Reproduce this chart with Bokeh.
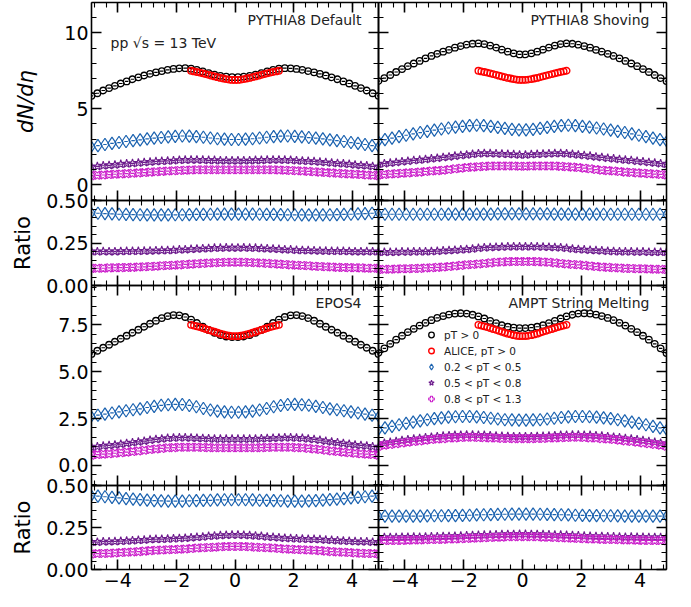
import numpy as np
from bokeh.plotting import figure
from bokeh.models import (Range1d, LinearAxis, SingleIntervalTicker, Label, Legend, LegendItem,
                          ColumnDataSource, NumeralTickFormatter, CustomJSTickFormatter,
                          BasicTickFormatter)
from bokeh.layouts import row, column
from bokeh.embed import file_html
from bokeh.resources import INLINE

# ---------------- data ----------------
eta = [-4.9, -4.7, -4.5, -4.3, -4.1, -3.9, -3.7, -3.5, -3.3, -3.1, -2.9, -2.7, -2.5,
       -2.3, -2.1, -1.9, -1.7, -1.5, -1.3, -1.1, -0.9, -0.7, -0.5, -0.3, -0.1,
       0.1, 0.3, 0.5, 0.7, 0.9, 1.1, 1.3, 1.5, 1.7, 1.9, 2.1, 2.3, 2.5, 2.7, 2.9,
       3.1, 3.3, 3.5, 3.7, 3.9, 4.1, 4.3, 4.5, 4.7, 4.9]

# 0.2 < pT < 0.5 bins
eta_b1 = [-4.92, -4.68, -4.44, -4.20, -3.96, -3.72, -3.48, -3.24, -3.00, -2.76, -2.52,
          -2.28, -2.04, -1.80, -1.56, -1.32, -1.08, -0.84, -0.60, -0.36, -0.12,
          0.12, 0.36, 0.60, 0.84, 1.08, 1.32, 1.56, 1.80, 2.04, 2.28, 2.52,
          2.76, 3.00, 3.24, 3.48, 3.72, 3.96, 4.20, 4.44, 4.68, 4.92]

alice_eta = [-1.5, -1.4, -1.3, -1.2, -1.1, -1.0, -0.9, -0.8, -0.7, -0.6, -0.5, -0.4, -0.3,
             -0.2, -0.1, 0.0, 0.1, 0.2, 0.3, 0.4, 0.5, 0.6, 0.7, 0.8, 0.9, 1.0, 1.1, 1.2,
             1.3, 1.4, 1.5]
alice_dndeta = [7.50, 7.46, 7.42, 7.38, 7.33, 7.28, 7.23, 7.18, 7.13, 7.08, 7.03, 6.99, 6.95,
                6.92, 6.90, 6.90, 6.90, 6.92, 6.95, 6.99, 7.03, 7.08, 7.13, 7.18, 7.23, 7.28,
                7.33, 7.38, 7.42, 7.46, 7.50]

# PYTHIA8 Default
default_all = [5.85, 6.02, 6.20, 6.36, 6.51, 6.66, 6.80, 6.94, 7.07, 7.19, 7.30, 7.40, 7.48, 7.56, 7.62, 7.66, 7.67, 7.64, 7.56, 7.46, 7.35, 7.25, 7.17, 7.11, 7.08,
               7.08, 7.11, 7.17, 7.25, 7.35, 7.46, 7.56, 7.64, 7.67, 7.66, 7.62, 7.56, 7.48, 7.40, 7.30, 7.19, 7.07, 6.94, 6.80, 6.66, 6.51, 6.36, 6.20, 6.02, 5.85]
default_b1 = [2.49, 2.57, 2.64, 2.71, 2.77, 2.84, 2.90, 2.95, 3.01, 3.06, 3.10, 3.14, 3.18, 3.20, 3.19, 3.16, 3.12, 3.07, 3.02, 3.00, 2.97,
              2.97, 3.00, 3.02, 3.07, 3.12, 3.16, 3.19, 3.20, 3.18, 3.14, 3.10, 3.06, 3.01, 2.95, 2.90, 2.84, 2.77, 2.71, 2.64, 2.57, 2.49]
default_r1 = [0.428, 0.425, 0.423, 0.421, 0.419, 0.418, 0.417, 0.416, 0.415, 0.415, 0.415, 0.415, 0.416, 0.416, 0.417, 0.418, 0.418, 0.419, 0.420, 0.420, 0.420,
              0.420, 0.420, 0.420, 0.419, 0.418, 0.418, 0.417, 0.416, 0.416, 0.415, 0.415, 0.415, 0.415, 0.416, 0.417, 0.418, 0.419, 0.421, 0.423, 0.425, 0.428]
default_b2 = [1.17, 1.20, 1.24, 1.27, 1.30, 1.34, 1.37, 1.40, 1.43, 1.46, 1.49, 1.52, 1.54, 1.56, 1.58, 1.61, 1.62, 1.63, 1.63, 1.62, 1.60, 1.60, 1.58, 1.58, 1.57,
              1.57, 1.58, 1.58, 1.60, 1.60, 1.62, 1.63, 1.63, 1.62, 1.61, 1.58, 1.56, 1.54, 1.52, 1.49, 1.46, 1.43, 1.40, 1.37, 1.34, 1.30, 1.27, 1.24, 1.20, 1.17]
default_b3 = [0.59, 0.61, 0.63, 0.66, 0.68, 0.70, 0.72, 0.74, 0.77, 0.79, 0.82, 0.84, 0.87, 0.89, 0.91, 0.93, 0.95, 0.96, 0.97, 0.97, 0.97, 0.97, 0.97, 0.97, 0.97,
              0.97, 0.97, 0.97, 0.97, 0.97, 0.97, 0.97, 0.96, 0.95, 0.93, 0.91, 0.89, 0.87, 0.84, 0.82, 0.79, 0.77, 0.74, 0.72, 0.70, 0.68, 0.66, 0.63, 0.61, 0.59]

# PYTHIA8 Shoving
shoving_all = [6.82, 7.02, 7.22, 7.42, 7.61, 7.80, 7.98, 8.15, 8.32, 8.48, 8.62, 8.76, 8.88, 9.02, 9.13, 9.22, 9.28, 9.30, 9.26, 9.16, 9.03, 8.89, 8.76, 8.65, 8.58,
               8.58, 8.65, 8.76, 8.89, 9.03, 9.16, 9.26, 9.30, 9.28, 9.22, 9.13, 9.02, 8.88, 8.76, 8.62, 8.48, 8.32, 8.15, 7.98, 7.80, 7.61, 7.42, 7.22, 7.02, 6.82]
shoving_b1 = [2.85, 2.96, 3.06, 3.16, 3.25, 3.34, 3.43, 3.51, 3.59, 3.66, 3.73, 3.79, 3.84, 3.89, 3.91, 3.89, 3.84, 3.77, 3.70, 3.64, 3.60,
              3.60, 3.64, 3.70, 3.77, 3.84, 3.89, 3.91, 3.89, 3.84, 3.79, 3.73, 3.66, 3.59, 3.51, 3.43, 3.34, 3.25, 3.16, 3.06, 2.96, 2.85]
shoving_r1 = [0.418, 0.419, 0.419, 0.419, 0.419, 0.419, 0.419, 0.419, 0.419, 0.419, 0.420, 0.420, 0.420, 0.420, 0.420, 0.420, 0.420, 0.421, 0.421, 0.421, 0.421,
              0.421, 0.421, 0.421, 0.421, 0.420, 0.420, 0.420, 0.420, 0.420, 0.420, 0.420, 0.419, 0.419, 0.419, 0.419, 0.419, 0.419, 0.419, 0.419, 0.419, 0.418]
shoving_b2 = [1.34, 1.38, 1.42, 1.46, 1.51, 1.54, 1.59, 1.62, 1.66, 1.70, 1.74, 1.79, 1.83, 1.88, 1.92, 1.96, 2.00, 2.04, 2.06, 2.05, 2.04, 2.02, 2.00, 1.98, 1.96,
              1.96, 1.98, 2.00, 2.02, 2.04, 2.05, 2.06, 2.04, 2.00, 1.96, 1.92, 1.88, 1.83, 1.79, 1.74, 1.70, 1.66, 1.62, 1.59, 1.54, 1.51, 1.46, 1.42, 1.38, 1.34]
shoving_b3 = [0.64, 0.67, 0.69, 0.72, 0.75, 0.77, 0.80, 0.82, 0.86, 0.89, 0.92, 0.95, 0.99, 1.04, 1.08, 1.12, 1.15, 1.18, 1.20, 1.22, 1.23, 1.23, 1.23, 1.22, 1.21,
              1.21, 1.22, 1.23, 1.23, 1.23, 1.22, 1.20, 1.18, 1.15, 1.12, 1.08, 1.04, 0.99, 0.95, 0.92, 0.89, 0.86, 0.82, 0.80, 0.77, 0.75, 0.72, 0.69, 0.67, 0.64]

# EPOS4
epos_all = [5.95, 6.12, 6.28, 6.44, 6.60, 6.76, 6.92, 7.08, 7.24, 7.40, 7.56, 7.72, 7.86, 7.97, 8.02, 8.01, 7.92, 7.78, 7.60, 7.41, 7.23, 7.08, 6.96, 6.88, 6.85,
            6.85, 6.88, 6.96, 7.08, 7.23, 7.41, 7.60, 7.78, 7.92, 8.01, 8.02, 7.97, 7.86, 7.72, 7.56, 7.40, 7.24, 7.08, 6.92, 6.76, 6.60, 6.44, 6.28, 6.12, 5.95]
epos_b1 = [2.61, 2.68, 2.74, 2.80, 2.86, 2.92, 2.97, 3.02, 3.09, 3.15, 3.21, 3.24, 3.26, 3.25, 3.20, 3.13, 3.04, 2.96, 2.90, 2.86, 2.84,
           2.84, 2.86, 2.90, 2.96, 3.04, 3.13, 3.20, 3.25, 3.26, 3.24, 3.21, 3.15, 3.09, 3.02, 2.97, 2.92, 2.86, 2.80, 2.74, 2.68, 2.61]
epos_r1 = [0.440, 0.437, 0.433, 0.429, 0.426, 0.422, 0.419, 0.416, 0.413, 0.410, 0.408, 0.407, 0.407, 0.407, 0.409, 0.410, 0.411, 0.412, 0.414, 0.415, 0.415,
           0.415, 0.415, 0.414, 0.412, 0.411, 0.410, 0.409, 0.407, 0.407, 0.407, 0.408, 0.410, 0.413, 0.416, 0.419, 0.422, 0.426, 0.429, 0.433, 0.437, 0.440]
epos_b2 = [0.97, 1.00, 1.04, 1.07, 1.10, 1.14, 1.18, 1.22, 1.26, 1.30, 1.35, 1.39, 1.42, 1.45, 1.47, 1.48, 1.48, 1.47, 1.46, 1.44, 1.43, 1.42, 1.41, 1.41, 1.41,
           1.41, 1.41, 1.41, 1.42, 1.43, 1.44, 1.46, 1.47, 1.48, 1.48, 1.47, 1.45, 1.42, 1.39, 1.35, 1.30, 1.26, 1.22, 1.18, 1.14, 1.10, 1.07, 1.04, 1.00, 0.97]
epos_b3 = [0.55, 0.58, 0.60, 0.62, 0.65, 0.68, 0.71, 0.74, 0.77, 0.81, 0.85, 0.88, 0.91, 0.94, 0.95, 0.97, 0.97, 0.97, 0.97, 0.96, 0.95, 0.94, 0.94, 0.94, 0.94,
           0.94, 0.94, 0.94, 0.94, 0.95, 0.96, 0.97, 0.97, 0.97, 0.97, 0.95, 0.94, 0.91, 0.88, 0.85, 0.81, 0.77, 0.74, 0.71, 0.68, 0.65, 0.62, 0.60, 0.58, 0.55]

# AMPT String Melting
ampt_all = [6.00, 6.25, 6.49, 6.71, 6.92, 7.11, 7.29, 7.46, 7.61, 7.75, 7.87, 7.97, 8.05, 8.10, 8.12, 8.10, 8.04, 7.95, 7.84, 7.71, 7.59, 7.48, 7.40, 7.35, 7.33,
            7.33, 7.35, 7.40, 7.48, 7.59, 7.71, 7.84, 7.95, 8.04, 8.10, 8.12, 8.10, 8.05, 7.97, 7.87, 7.75, 7.61, 7.46, 7.29, 7.11, 6.92, 6.71, 6.49, 6.25, 6.00]
ampt_b1 = [1.90, 2.00, 2.08, 2.17, 2.24, 2.31, 2.38, 2.44, 2.50, 2.54, 2.58, 2.60, 2.61, 2.61, 2.59, 2.56, 2.52, 2.48, 2.44, 2.43, 2.42,
           2.42, 2.43, 2.44, 2.48, 2.52, 2.56, 2.59, 2.61, 2.61, 2.60, 2.58, 2.54, 2.50, 2.44, 2.38, 2.31, 2.24, 2.17, 2.08, 2.00, 1.90]
ampt_r1 = [0.318, 0.318, 0.318, 0.318, 0.318, 0.318, 0.318, 0.319, 0.320, 0.320, 0.321, 0.321, 0.322, 0.323, 0.325, 0.326, 0.327, 0.328, 0.329, 0.330, 0.330,
           0.330, 0.330, 0.329, 0.328, 0.327, 0.326, 0.325, 0.323, 0.322, 0.321, 0.321, 0.320, 0.320, 0.319, 0.318, 0.318, 0.318, 0.318, 0.318, 0.318, 0.318]
ampt_b2 = [1.14, 1.19, 1.24, 1.28, 1.33, 1.37, 1.41, 1.44, 1.48, 1.51, 1.54, 1.57, 1.59, 1.61, 1.62, 1.63, 1.63, 1.62, 1.61, 1.59, 1.57, 1.56, 1.55, 1.54, 1.54,
           1.54, 1.54, 1.55, 1.56, 1.57, 1.59, 1.61, 1.62, 1.63, 1.63, 1.62, 1.61, 1.59, 1.57, 1.54, 1.51, 1.48, 1.44, 1.41, 1.37, 1.33, 1.28, 1.24, 1.19, 1.14]
ampt_b3 = [1.03, 1.08, 1.12, 1.16, 1.20, 1.24, 1.28, 1.31, 1.35, 1.38, 1.41, 1.43, 1.46, 1.47, 1.49, 1.50, 1.50, 1.49, 1.48, 1.47, 1.46, 1.44, 1.44, 1.43, 1.43,
           1.43, 1.43, 1.44, 1.44, 1.46, 1.47, 1.48, 1.49, 1.50, 1.50, 1.49, 1.47, 1.46, 1.43, 1.41, 1.38, 1.35, 1.31, 1.28, 1.24, 1.20, 1.16, 1.12, 1.08, 1.03]

panel_titles = ["PYTHIA8 Default", "PYTHIA8 Shoving", "EPOS4", "AMPT String Melting"]
legend_labels = ["pT > 0", "ALICE, pT > 0", "0.2 < pT < 0.5", "0.5 < pT < 0.8", "0.8 < pT < 1.3"]
energy_text = "pp \u221as = 13 TeV"

# ---------------- style ----------------
FONT = "DejaVu Sans"
C_BLACK, C_RED = "#000000", "#ff0000"
C_BLUE, C_PURPLE, C_MAG = "#1c63b0", "#6c1a8c", "#cc22cc"
FWS = [287, 288]
X_FMT_CODE = "return tick < 0 ? '\u2212' + Math.abs(tick) : '' + tick;"


def make_sources(allp, b1, r1, b2, b3):
    a = np.array(allp)
    main = ColumnDataSource(dict(eta=eta, all=allp, b2=b2, b3=b3,
                                 r2=list(np.array(b2) / a), r3=list(np.array(b3) / a)))
    blue = ColumnDataSource(dict(eta=eta_b1, b1=b1, r1=r1))
    return main, blue


def style_axis(ax, show, interval, fmt=None, label=None, italic=False, label_standoff=8):
    ax.ticker = SingleIntervalTicker(interval=interval, num_minor_ticks=5)
    ax.major_tick_in, ax.major_tick_out = 10, 0
    ax.minor_tick_in, ax.minor_tick_out = 5, 0
    ax.axis_line_width = 1.6
    ax.major_tick_line_width = 1.6
    ax.minor_tick_line_width = 1.1
    ax.axis_line_color = "black"
    ax.major_tick_line_color = "black"
    ax.minor_tick_line_color = "black"
    if show:
        ax.major_label_text_font = FONT
        ax.major_label_text_font_size = "19px"
        ax.major_label_text_color = "black"
        ax.major_label_standoff = 3
        if fmt is not None:
            ax.formatter = fmt
    else:
        # ticks only: tick labels are not painted on the inner spines
        ax.major_label_text_font_size = "1px"
        ax.major_label_text_color = None
        ax.major_label_standoff = 0
    if label:
        ax.axis_label = label
        ax.axis_label_text_font = FONT
        ax.axis_label_text_font_size = "21px"
        ax.axis_label_text_color = "black"
        ax.axis_label_text_font_style = "italic" if italic else "normal"
        ax.axis_label_standoff = label_standoff


def make_fig(fw, fh, yr, yint, yfmt, left_col, xlabels, borders, ylabel=None, italic=False,
             lab_standoff=8):
    top, bottom, left, right = borders
    p = figure(frame_width=fw, frame_height=fh, x_range=Range1d(-4.9, 4.9), y_range=Range1d(*yr),
               x_axis_location=None, y_axis_location=None, output_backend="svg",
               toolbar_location=None, min_border_top=top, min_border_bottom=bottom,
               min_border_left=left, min_border_right=right)
    p.background_fill_color = None
    p.border_fill_color = None
    p.outline_line_color = None
    p.grid.visible = False
    axl = LinearAxis()
    style_axis(axl, left_col, yint, yfmt, ylabel, italic, lab_standoff)
    p.add_layout(axl, "left")
    axr = LinearAxis()
    style_axis(axr, False, yint)
    p.add_layout(axr, "right")
    axb = LinearAxis()
    style_axis(axb, xlabels, 2, CustomJSTickFormatter(code=X_FMT_CODE))
    p.add_layout(axb, "below")
    axt = LinearAxis()
    style_axis(axt, False, 2)
    p.add_layout(axt, "above")
    return p


def add_series(p, src, col, kind, color):
    if kind == "circle":
        r = p.scatter("eta", col, source=src, marker="circle", size=6.5, fill_color=None,
                      line_color=color, line_width=1.3)
    elif kind == "diamond":
        r = p.scatter("eta", col, source=src, marker="diamond", size=12.5, fill_color=None,
                      line_color=color, line_width=1.2)
    elif kind == "star":
        r = p.scatter("eta", col, source=src, marker="star", size=9, fill_color=None,
                      line_color=color, line_width=1.1)
    else:
        r = p.scatter("eta", col, source=src, marker="plus", size=8.5, angle=np.pi / 4,
                      fill_color=None, line_color=color, line_width=1.1)
    p.scatter("eta", col, source=src, marker="dash", size=3.5, line_color=color, line_width=1.2)
    return r


sources = [make_sources(default_all, default_b1, default_r1, default_b2, default_b3),
           make_sources(shoving_all, shoving_b1, shoving_r1, shoving_b2, shoving_b3),
           make_sources(epos_all, epos_b1, epos_r1, epos_b2, epos_b3),
           make_sources(ampt_all, ampt_b1, ampt_r1, ampt_b2, ampt_b3)]
alice_src = ColumnDataSource(dict(eta=alice_eta, y=alice_dndeta))

main_h = [198, 200]
main_yr = [(-1.05, 12.0), (-1.07, 9.6)]
main_int = [5, 2.5]
ratio_h = [85, 84]

rows = []
for prow in range(2):
    main_figs, ratio_figs = [], []
    for pcol in range(2):
        idx = prow * 2 + pcol
        src, bsrc = sources[idx]
        fw = FWS[pcol]
        left_col = pcol == 0
        lb, rb = (91, 8) if left_col else (8, 10)
        # main panel
        top_b = 2 if prow == 0 else 12
        pm = make_fig(fw, main_h[prow], main_yr[prow], main_int[prow],
                      NumeralTickFormatter(format="0.0") if prow == 1 else BasicTickFormatter(),
                      left_col, False, (top_b, 12, lb, rb),
                      ylabel=("dN/d\u03b7" if (left_col and prow == 0) else None), italic=True,
                      lab_standoff=23)
        r_all = add_series(pm, src, "all", "circle", C_BLACK)
        r_b1 = add_series(pm, bsrc, "b1", "diamond", C_BLUE)
        r_b2 = add_series(pm, src, "b2", "star", C_PURPLE)
        r_b3 = add_series(pm, src, "b3", "x", C_MAG)
        r_al = pm.scatter("eta", "y", source=alice_src, marker="circle", size=6.5, fill_color=None,
                          line_color=C_RED, line_width=1.4)
        pm.add_layout(Label(x=fw - 17, y=main_h[prow] - 17, x_units="screen", y_units="screen",
                            text=panel_titles[idx], text_align="right", text_baseline="middle",
                            text_font=FONT, text_font_size="14px", text_color="#222222"))
        if idx == 0:
            pm.add_layout(Label(x=19, y=main_h[prow] - 40, x_units="screen", y_units="screen",
                                text=energy_text, text_align="left", text_baseline="middle",
                                text_font=FONT, text_font_size="14px", text_color="#222222"))
        if idx == 3:
            items = [LegendItem(label=legend_labels[0], renderers=[r_all]),
                     LegendItem(label=legend_labels[1], renderers=[r_al]),
                     LegendItem(label=legend_labels[2], renderers=[r_b1]),
                     LegendItem(label=legend_labels[3], renderers=[r_b2]),
                     LegendItem(label=legend_labels[4], renderers=[r_b3])]
            leg = Legend(items=items, location=(46, 79), background_fill_alpha=0,
                         border_line_color=None, label_text_font=FONT, label_text_font_size="10.5px",
                         label_text_color="#222222", glyph_width=14, glyph_height=15,
                         label_height=15, spacing=1, padding=0, margin=0, label_standoff=6)
            pm.add_layout(leg)
        # ratio panel
        bot_b = 12 if prow == 0 else 36
        pr = make_fig(fw, ratio_h[prow], (0, 0.5), 0.25, NumeralTickFormatter(format="0.00"),
                      left_col, prow == 1, (12, bot_b, lb, rb),
                      ylabel=("Ratio" if left_col else None), italic=False, lab_standoff=8)
        add_series(pr, bsrc, "r1", "diamond", C_BLUE)
        add_series(pr, src, "r2", "star", C_PURPLE)
        add_series(pr, src, "r3", "x", C_MAG)
        if prow == 1 and left_col:
            pr.add_layout(Label(x=fw - 1, y=-34, x_units="screen", y_units="screen", text="\u03b7",
                                text_align="right", text_baseline="bottom", text_font=FONT,
                                text_font_size="22px", text_font_style="italic",
                                text_color="black"))
        if not left_col:
            pm.margin = (0, 0, 0, -16)
            pr.margin = (0, 0, 0, -16)
        main_figs.append(pm)
        ratio_figs.append(pr)
    rm = row(*main_figs)
    rr = row(*ratio_figs)
    if prow == 1:
        rm.margin = (-24, 0, 0, 0)
    rr.margin = (-24, 0, 0, 0)
    rows.extend([rm, rr])

layout = column(*rows)
open("out.html", "w").write(file_html(layout, INLINE))
